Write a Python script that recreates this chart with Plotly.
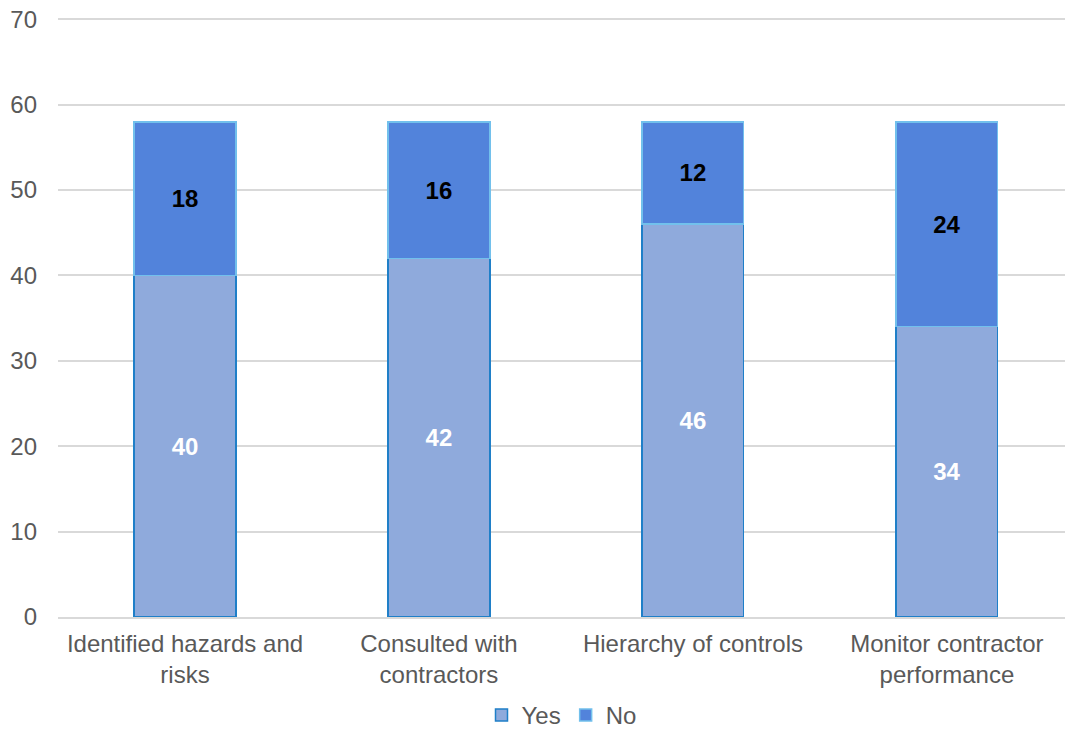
import plotly.graph_objects as go

categories = ["Identified hazards and<br>risks", "Consulted with<br>contractors", "Hierarchy of controls", "Monitor contractor<br>performance"]
yes_vals = [40, 42, 46, 34]
no_vals = [18, 16, 12, 24]
y_ticks = [0, 10, 20, 30, 40, 50, 60, 70]

FONT = "Liberation Sans, Arial, sans-serif"
FS = 24

fig = go.Figure()
fig.add_trace(go.Bar(
    name="Yes", x=categories, y=yes_vals,
    marker=dict(color="#8FAADC", line=dict(color="#1F7FC8", width=1.5)),
    text=[str(v) for v in yes_vals], textposition="inside", insidetextanchor="middle",
    textfont=dict(family=FONT, size=FS, color="white"),
    texttemplate="<b>%{text}</b>",
))
fig.add_trace(go.Bar(
    name="No", x=categories, y=no_vals,
    marker=dict(color="#5283DB", line=dict(color="#72C0EC", width=1.5)),
    text=[str(v) for v in no_vals], textposition="inside", insidetextanchor="middle",
    textfont=dict(family=FONT, size=FS, color="black"),
    texttemplate="<b>%{text}</b>",
))

fig.update_layout(
    barmode="stack",
    bargap=0.6,
    width=1067, height=733,
    margin=dict(l=58, r=2, t=18, b=116, autoexpand=False),
    paper_bgcolor="white", plot_bgcolor="white",
    font=dict(family=FONT, size=FS, color="#595959"),
    showlegend=True,
    legend=dict(orientation="h", x=0.5, xanchor="center", yref="container", y=0.024, yanchor="middle",
                font=dict(family=FONT, size=FS, color="#595959"),
                itemwidth=30, traceorder="normal"),
    uniformtext=dict(mode="show", minsize=FS),
)
fig.update_yaxes(range=[0, 70.15], tickvals=y_ticks, showgrid=True, gridcolor="#D9D9D9",
                 gridwidth=1.5, zeroline=False, showline=False, ticks="", automargin=False,
                 ticklabeloverflow="allow",
                 tickfont=dict(family=FONT, size=FS, color="#595959"), ticklabelstandoff=20)
fig.update_xaxes(range=[-0.5, 3.465], showline=True, linecolor="#D9D9D9", linewidth=1.5, ticks="",
                 automargin=False, ticklabeloverflow="allow",
                 tickfont=dict(family=FONT, size=FS, color="#595959"), ticklabelstandoff=4)

fig.write_html("out.html", config={"displayModeBar": False},
               post_script="document.body.style.margin='0px';")
